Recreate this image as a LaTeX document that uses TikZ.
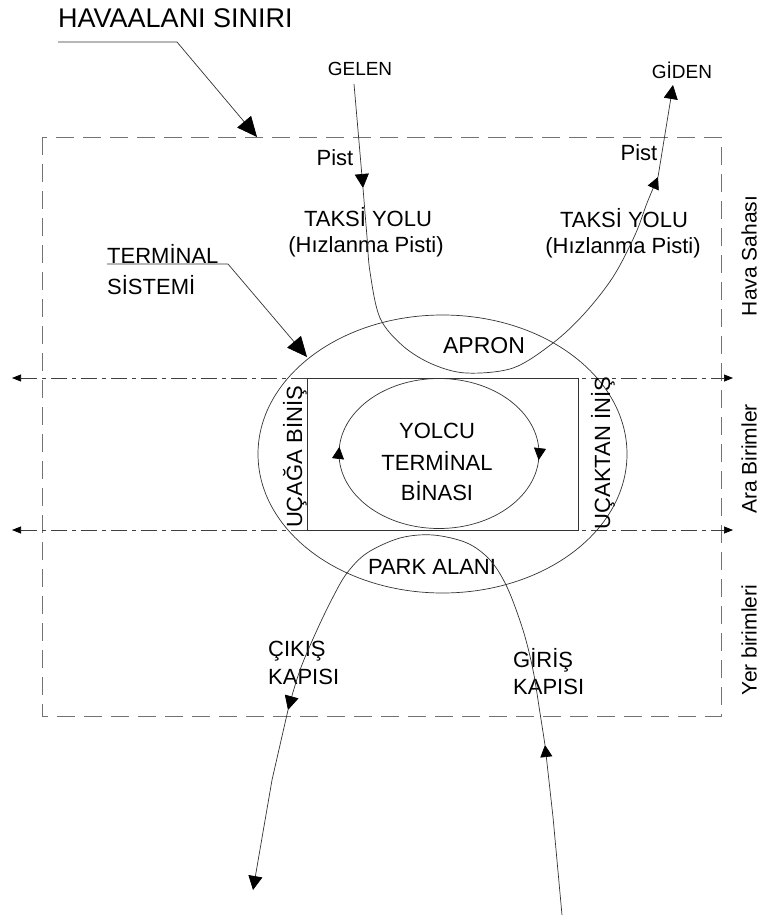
\documentclass[tikz,border=0pt]{standalone}
\usepackage{fontspec}
\setmainfont{Liberation Sans}
\usetikzlibrary{arrows.meta,decorations.markings}
\begin{document}
\begin{tikzpicture}[x=1pt,y=-1pt,
  thinline/.style={line width=0.7pt, draw=black!80},
  boundary/.style={line width=0.8pt, draw=black!55, dash pattern=on 18pt off 9pt},
  divider/.style={line width=0.7pt, draw=black!75, dash pattern=on 16pt off 5pt on 4pt off 5pt, {Triangle[length=9pt,width=7pt,fill=black,color=black]}-{Triangle[length=9pt,width=7pt,fill=black,color=black]}},
  tipbig/.tip={Triangle[length=20pt,width=18pt,fill=black,color=black]},
  tipmid/.tip={Triangle[length=14pt,width=14pt,fill=black,color=black]},
  tipsm/.tip={Triangle[length=12pt,width=12pt,fill=black,color=black]},
  lbl/.style={font=\fontsize{22}{26}\selectfont, inner sep=0pt, anchor=base},
  lblsmall/.style={font=\fontsize{19}{22}\selectfont, inner sep=0pt, anchor=base},
  lblside/.style={font=\fontsize{21}{25}\selectfont, inner sep=0pt, anchor=center, rotate=90}
]
\useasboundingbox (0,0) rectangle (761,915);

% airport boundary
\draw[boundary] (42,137) rectangle (721,716);

% dividing lines
\coordinate (d1L) at (12,378); \coordinate (d1R) at (733,378);
\coordinate (d2L) at (12,530); \coordinate (d2R) at (733,530);
\draw[divider] (d1L) -- (d1R);
\draw[divider] (d2L) -- (d2R);

% terminal building rectangle
\draw[thinline] (307,378) rectangle (578,530);

% terminal system ellipse
\draw[thinline] (442.5,454) ellipse [x radius=184.5, y radius=139];

% passenger cycle
\draw[thinline, postaction=decorate, decoration={markings,
   mark=at position 0.012 with {\arrow{tipsm}},
   mark=at position 0.512 with {\arrow{tipsm}}}]
   (439,453.5) ellipse [x radius=100, y radius=75];

% labels
\node[lbl, font=\fontsize{27}{30}\selectfont, anchor=base west] (sinir) at (58,28) {HAVAALANI SINIRI};
\node[lblsmall] (gelen) at (360,76) {GELEN};
\node[lblsmall] (giden) at (682,79) {GİDEN};
\node[lbl] (pist1) at (335,165) {Pist};
\node[lbl] (pist2) at (639,160) {Pist};
\node[lbl] (taksi1) at (368,226) {TAKSİ YOLU};
\node[lbl] (hiz1) at (366,252) {(Hızlanma Pisti)};
\node[lbl] (taksi2) at (624,227) {TAKSİ YOLU};
\node[lbl] (hiz2) at (623,253) {(Hızlanma Pisti)};
\node[lbl, anchor=base west] (term) at (107,263) {TERMİNAL};
\node[lbl, anchor=base west] (sist) at (107,294) {SİSTEMİ};
\node[lbl, font=\fontsize{23}{26}\selectfont] (apron) at (484,353) {APRON};
\node[lbl] (yolcu) at (437,438) {YOLCU};
\node[lbl] (tbina) at (437,470) {TERMİNAL};
\node[lbl] (bina) at (437,500) {BİNASI};
\node[lbl, anchor=center, rotate=90] (binis) at (295,457) {UÇAĞA BİNİŞ};
\node[lbl, anchor=center, rotate=90] (inis) at (603,453) {UÇAKTAN İNİŞ};
\node[lbl] (park) at (432,574) {PARK ALANI};
\node[lbl, anchor=base west] (cikis) at (268,656) {ÇIKIŞ};
\node[lbl, anchor=base west] (kap1) at (268,684) {KAPISI};
\node[lbl, anchor=base west] (giris) at (513,667) {GİRİŞ};
\node[lbl, anchor=base west] (kap2) at (513,694) {KAPISI};
\node[lblside] (hava) at (749,256) {Hava Sahası};
\node[lblside] (ara) at (749,459) {Ara Birimler};
\node[lblside] (yer) at (749,640) {Yer birimleri};

% leaders
\coordinate (s0) at (58,42); \coordinate (s1) at (177,42); \coordinate (s2) at (257,137);
\draw[thinline, -tipbig] (s0) -- (s1) -- (s2);
\coordinate (t0) at (107,264); \coordinate (t1) at (228,264); \coordinate (t2) at (307,357);
\draw[thinline, -tipbig] (t0) -- (t1) -- (t2);

% arriving / departing aircraft path
\coordinate (g0) at (354,84);
\coordinate (g1) at (363,188);
\coordinate (g2) at (658,177);
\coordinate (g3) at (673,85);
\draw[thinline, -tipmid] (g0) -- (g1);
\draw[thinline, -tipsm] plot[smooth, tension=0.55] coordinates {(363,188) (367,237) (370,272) (380,318) (403,346) (432,364) (466,373) (513,368) (553,343) (584,314) (613,277) (635,235) (647,203) (658,177)};
\draw[thinline, -tipmid] (g2) -- (g3);

% ground access path
\coordinate (k0) at (562,915);
\coordinate (k1) at (553,817);
\coordinate (k2) at (545,745);
\coordinate (k3) at (288,710);
\coordinate (k4) at (272,780);
\coordinate (k5) at (253,890);
\draw[thinline, -tipsm] (k0) -- (k1) -- (k2);
\draw[thinline, -tipmid] plot[smooth, tension=0.55] coordinates {(545,745) (540,713) (533,670) (523,630) (507,587) (490,560) (467,543) (433,535) (400,538) (367,553) (347,573) (333,597) (317,630) (300,670) (288,710)};
\draw[thinline, -tipmid] (k3) -- (k4) -- (k5);
\end{tikzpicture}
\end{document}
